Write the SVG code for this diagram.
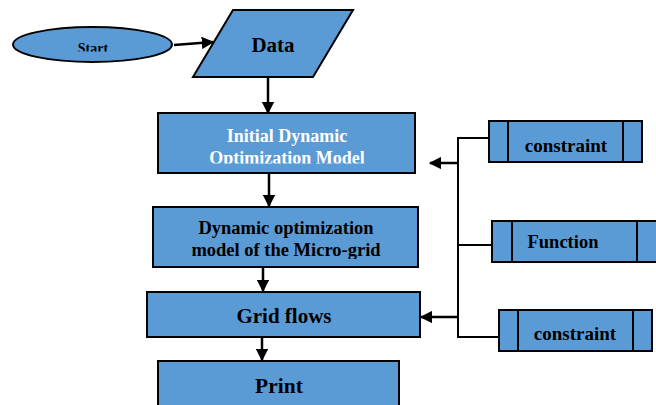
<svg xmlns="http://www.w3.org/2000/svg" width="656" height="405" viewBox="0 0 656 405">
<style>
.s{fill:#5B9BD5;stroke:#000;stroke-width:2}
.t{font-family:"Liberation Serif","Times New Roman",serif;font-weight:bold;text-anchor:middle;fill:#000}
.w{fill:#fff}
.c{fill:none;stroke:#000;stroke-width:2.5}
.c2{fill:none;stroke:#000;stroke-width:2}
</style>
<defs>
<marker id="ah" viewBox="0 0 10 10" refX="9" refY="5" markerWidth="5" markerHeight="5" orient="auto" markerUnits="strokeWidth">
<path d="M0,0 L10,5 L0,10 z" fill="#000"/>
</marker>
<clipPath id="cs"><rect x="0" y="0" width="200" height="51.5"/></clipPath>
<clipPath id="ci"><rect x="150" y="110" width="270" height="53.5"/></clipPath>
<clipPath id="cd"><rect x="150" y="200" width="270" height="59"/></clipPath>
</defs>
<g id="start">
<ellipse class="s" cx="92.5" cy="44.5" rx="79.5" ry="17.5"/>
<text class="t" x="93" y="53" font-size="14" clip-path="url(#cs)">Start</text>
</g>
<g id="data">
<polygon class="s" points="233,10 353,10 313,77 193,77"/>
<text class="t" x="273" y="52" font-size="21">Data</text>
</g>
<g id="initial">
<rect class="s" x="158" y="113" width="257" height="60"/>
<g clip-path="url(#ci)">
<text class="t w" x="287" y="142" font-size="18">Initial Dynamic</text>
<text class="t w" x="287" y="164" font-size="18">Optimization Model</text>
</g>
</g>
<g id="dynamic">
<rect class="s" x="153" y="207" width="265" height="60"/>
<g clip-path="url(#cd)">
<text class="t" x="286" y="234" font-size="18.5">Dynamic optimization</text>
<text class="t" x="286" y="256" font-size="18.5">model of the Micro-grid</text>
</g>
</g>
<g id="grid">
<rect class="s" x="147" y="292" width="273" height="45"/>
<text class="t" x="284" y="323" font-size="21">Grid flows</text>
</g>
<g id="print">
<rect class="s" x="158" y="361" width="241" height="50"/>
<text class="t" x="279" y="393" font-size="21.5">Print</text>
</g>
<g id="constraint1">
<rect class="s" x="489" y="121" width="153" height="41"/>
<line class="c2" x1="508" y1="121" x2="508" y2="162"/>
<line class="c2" x1="623" y1="121" x2="623" y2="162"/>
<text class="t" x="566" y="152" font-size="19">constraint</text>
</g>
<g id="function">
<rect class="s" x="492" y="221" width="165" height="41"/>
<line class="c2" x1="512" y1="221" x2="512" y2="262"/>
<line class="c2" x1="637" y1="221" x2="637" y2="262"/>
<text class="t" x="563" y="248" font-size="18.5">Function</text>
</g>
<g id="constraint2">
<rect class="s" x="499" y="310" width="153" height="41"/>
<line class="c2" x1="518" y1="310" x2="518" y2="351"/>
<line class="c2" x1="633" y1="310" x2="633" y2="351"/>
<text class="t" x="575" y="340" font-size="19">constraint</text>
</g>
<g id="connectors">
<line class="c" x1="174" y1="45" x2="213" y2="42" marker-end="url(#ah)"/>
<line class="c" x1="268" y1="77" x2="268" y2="113" marker-end="url(#ah)"/>
<line class="c" x1="269" y1="173" x2="269" y2="206" marker-end="url(#ah)"/>
<line class="c" x1="263" y1="267" x2="263" y2="291" marker-end="url(#ah)"/>
<line class="c" x1="262" y1="337" x2="262" y2="360" marker-end="url(#ah)"/>
<polyline class="c2" points="489,138 458,138 458,337 499,337"/>
<line class="c2" x1="457" y1="245" x2="492" y2="245"/>
<line class="c" x1="458" y1="163" x2="430" y2="163" marker-end="url(#ah)"/>
<line class="c" x1="458" y1="317" x2="421" y2="317" marker-end="url(#ah)"/>
</g>
</svg>
